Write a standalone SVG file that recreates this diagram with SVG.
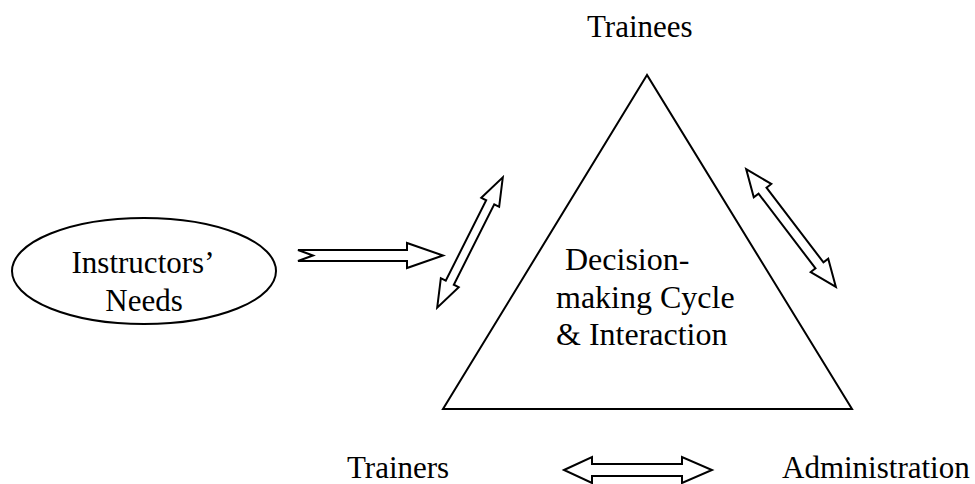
<svg xmlns="http://www.w3.org/2000/svg" width="975" height="484" viewBox="0 0 975 484">
<style>
.t{font-family:"Liberation Serif","Times New Roman",serif;font-size:31px;fill:#000}
.c{font-size:32px}
.s{fill:#fff;stroke:#000;stroke-width:2;stroke-linejoin:miter}
</style>
<rect width="975" height="484" fill="#fff"/>
<g id="trainees"><text class="t" x="587" y="37">Trainees</text></g>
<g id="cycle">
<polygon class="s" points="647,75 443,409 852,409"/>
<text class="t c" x="565" y="270">Decision-</text>
<text class="t c" x="556" y="308">making Cycle</text>
<text class="t c" x="556" y="345">&amp; Interaction</text>
</g>
<g id="needs">
<ellipse class="s" cx="144" cy="271" rx="132" ry="53" stroke-width="1.6"/>
<text class="t" x="143" y="273" text-anchor="middle">Instructors’</text>
<text class="t" x="144" y="311" text-anchor="middle">Needs</text>
</g>
<g id="trainers"><text class="t" x="347" y="478">Trainers</text></g>
<g id="administration"><text class="t" x="782" y="478">Administration</text></g>
<g id="connectors">
<polygon class="s" points="298,250 407,250 407,243 443,255.5 407,268 407,261 298,261 313,255.5"/>
<g transform="translate(470,242.5) rotate(-63.3)">
<polygon class="s" points="-73,0 -45,-10 -45,-4.5 45,-4.5 45,-10 73,0 45,10 45,4.5 -45,4.5 -45,10"/>
</g>
<g transform="translate(791,228) rotate(52.7)">
<polygon class="s" points="-74,0 -47,-11 -47,-5 47,-5 47,-11 74,0 47,11 47,5 -47,5 -47,11"/>
</g>
<polygon class="s" points="564,470 592,457 592,464 682,464 682,457 712,470 682,483 682,476 592,476 592,483"/>
</g>
</svg>
